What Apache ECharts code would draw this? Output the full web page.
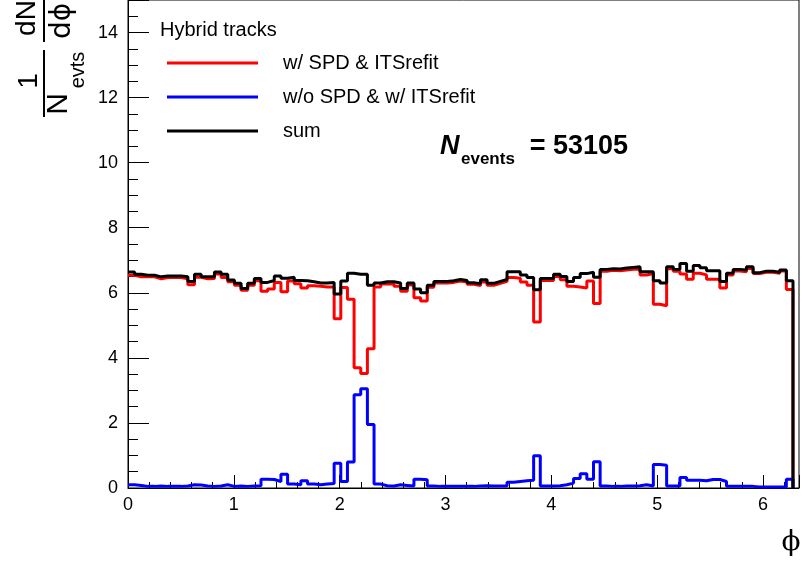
<!DOCTYPE html>
<html>
<head>
<meta charset="utf-8">
<script src="https://cdn.jsdelivr.net/npm/echarts@6.0.0/dist/echarts.min.js"></script>
<style>
  html, body { margin: 0; padding: 0; background: #fff; }
  #chart { width: 802px; height: 563px; }
</style>
</head>
<body>
<div id="chart"></div>
<script>
// histogram: 100 bins in phi over [0, 2pi]
var nBins = 100;
var phiMax = 2 * Math.PI;

// w/ SPD & ITSrefit
var wSpd = [
  6.54, 6.49, 6.49, 6.49, 6.43, 6.47, 6.47, 6.47, 6.43, 6.25,
  6.48, 6.43, 6.44, 6.58, 6.47, 6.34, 6.23, 6.08, 6.23, 6.37,
  6.05, 6.12, 6.32, 6.03, 6.36, 6.28, 6.15, 6.22, 6.20, 6.18,
  6.18, 5.20, 6.16, 5.80, 3.70, 3.52, 4.28, 6.18, 6.27, 6.28,
  6.20, 6.05, 6.24, 5.85, 5.75, 6.17, 6.30, 6.30, 6.32, 6.36,
  6.33, 6.26, 6.22, 6.33, 6.23, 6.29, 6.35, 6.47, 6.45, 6.33,
  6.23, 5.10, 6.38, 6.38, 6.50, 6.40, 6.20, 6.18, 6.15, 6.36,
  5.67, 6.66, 6.69, 6.68, 6.70, 6.72, 6.73, 6.55, 6.59, 5.65,
  5.60, 6.74, 6.66, 6.58, 6.42, 6.60, 6.55, 6.42, 6.42, 6.15,
  6.55, 6.67, 6.65, 6.75, 6.59, 6.63, 6.63, 6.60, 6.67, 6.10
];

// w/o SPD & w/ ITSrefit
var woSpd = [
  0.10, 0.08, 0.05, 0.05, 0.06, 0.05, 0.05, 0.05, 0.06, 0.10,
  0.09, 0.06, 0.05, 0.06, 0.10, 0.05, 0.06, 0.05, 0.06, 0.07,
  0.27, 0.26, 0.20, 0.42, 0.12, 0.10, 0.22, 0.12, 0.10, 0.12,
  0.14, 0.76, 0.20, 0.80, 2.87, 3.05, 1.95, 0.12, 0.07, 0.06,
  0.10, 0.08, 0.06, 0.27, 0.25, 0.06, 0.05, 0.05, 0.05, 0.05,
  0.05, 0.05, 0.06, 0.07, 0.06, 0.06, 0.06, 0.18, 0.20, 0.22,
  0.24, 0.99, 0.06, 0.06, 0.07, 0.10, 0.15, 0.29, 0.44, 0.27,
  0.81, 0.06, 0.05, 0.05, 0.06, 0.06, 0.07, 0.10, 0.06, 0.72,
  0.70, 0.06, 0.06, 0.32, 0.24, 0.24, 0.22, 0.26, 0.26, 0.20,
  0.05, 0.05, 0.05, 0.05, 0.03, 0.03, 0.03, 0.03, 0.03, 0.27
];

// sum
var sumTracks = [
  6.64, 6.57, 6.54, 6.54, 6.49, 6.52, 6.52, 6.52, 6.49, 6.35,
  6.57, 6.49, 6.49, 6.64, 6.57, 6.39, 6.29, 6.13, 6.29, 6.44,
  6.32, 6.38, 6.52, 6.45, 6.48, 6.38, 6.37, 6.34, 6.30, 6.30,
  6.32, 5.96, 6.36, 6.60, 6.57, 6.57, 6.23, 6.30, 6.34, 6.34,
  6.30, 6.13, 6.30, 6.12, 6.00, 6.23, 6.35, 6.35, 6.37, 6.41,
  6.38, 6.31, 6.28, 6.40, 6.29, 6.35, 6.41, 6.65, 6.65, 6.55,
  6.47, 6.09, 6.44, 6.44, 6.57, 6.50, 6.35, 6.47, 6.59, 6.63,
  6.48, 6.72, 6.74, 6.73, 6.76, 6.78, 6.80, 6.65, 6.65, 6.37,
  6.30, 6.80, 6.72, 6.90, 6.66, 6.84, 6.77, 6.68, 6.68, 6.35,
  6.60, 6.72, 6.70, 6.80, 6.62, 6.66, 6.66, 6.63, 6.70, 6.37
];

var xTicks = [0, 1, 2, 3, 4, 5, 6];
var yTicks = [0, 2, 4, 6, 8, 10, 12, 14];

// turn bin contents into a ROOT-style HIST outline (drop to 0 at the right edge)
function histLine(vals) {
  var w = phiMax / nBins;
  var pts = [];
  for (var i = 0; i < vals.length; i++) {
    pts.push([i * w, vals[i]]);
    pts.push([(i + 1) * w, vals[i]]);
  }
  pts.push([vals.length * w, 0]);
  return pts;
}

var font = 'Liberation Sans, Arial, sans-serif';

var chart = echarts.init(document.getElementById('chart'));

var option = {
  animation: false,
  backgroundColor: '#fff',
  title: {
    text: 'Hybrid tracks',
    left: 160,
    top: 20,
    padding: 0,
    textStyle: { fontFamily: font, fontSize: 20, fontWeight: 'normal', color: '#000' }
  },
  legend: {
    orient: 'vertical',
    left: 167,
    top: 46,
    padding: 0,
    itemGap: 0,
    itemWidth: 91,
    itemHeight: 3,
    icon: 'rect',
    data: ['w/ SPD & ITSrefit', 'w/o SPD & w/ ITSrefit', 'sum'],
    textStyle: { fontFamily: font, fontSize: 20, color: '#000', lineHeight: 34, padding: [0, 0, 0, 20] }
  },
  grid: {
    left: 128, right: 2, top: 0, bottom: 75,
    show: true, borderColor: '#000', borderWidth: 1
  },
  xAxis: {
    type: 'value',
    min: 0,
    max: 6.34,
    interval: 1,
    axisLine: { lineStyle: { color: '#000', width: 1 } },
    axisTick: { inside: true, length: 13, lineStyle: { color: '#000' } },
    minorTick: { show: true, splitNumber: 5, length: 6, lineStyle: { color: '#000' } },
    splitLine: { show: false },
    axisLabel: {
      fontFamily: font, fontSize: 18, color: '#000', margin: 8,
      formatter: function (v) { return xTicks.indexOf(v) >= 0 ? String(v) : ''; }
    }
  },
  yAxis: {
    type: 'value',
    min: 0,
    max: 15,
    interval: 2,
    axisLine: { show: true, lineStyle: { color: '#000', width: 1 } },
    axisTick: { show: true, inside: true, length: 21, lineStyle: { color: '#000' } },
    minorTick: { show: true, splitNumber: 4, length: 10, lineStyle: { color: '#000' } },
    splitLine: { show: false },
    axisLabel: {
      fontFamily: font, fontSize: 18, color: '#000', margin: 10,
      formatter: function (v) { return yTicks.indexOf(v) >= 0 ? String(v) : ''; }
    }
  },
  series: [
    {
      name: 'w/ SPD & ITSrefit', type: 'line', data: histLine(wSpd),
      showSymbol: false, color: '#ff0000', lineStyle: { width: 3 }, z: 2
    },
    {
      name: 'w/o SPD & w/ ITSrefit', type: 'line', data: histLine(woSpd),
      showSymbol: false, color: '#0000ff', lineStyle: { width: 3 }, z: 3
    },
    {
      name: 'sum', type: 'line', data: histLine(sumTracks),
      showSymbol: false, color: '#000000', lineStyle: { width: 3 }, z: 4
    }
  ],
  graphic: [
    // y axis title: 1/N_evts dN/dphi, rotated
    { type: 'text', x: 27, y: 18, rotation: Math.PI / 2,
      style: { text: 'dN', font: '28px ' + font, fill: '#000', align: 'center', verticalAlign: 'middle' } },
    { type: 'line', shape: { x1: 44, y1: -2, x2: 44, y2: 42 }, style: { stroke: '#000', lineWidth: 2 } },
    { type: 'text', x: 63, y: 21, rotation: Math.PI / 2,
      style: { text: 'd\u03d5', font: '28px DejaVu Sans, ' + font, fill: '#000', align: 'center', verticalAlign: 'middle' } },
    { type: 'text', x: 29, y: 81, rotation: Math.PI / 2,
      style: { text: '1', font: '28px ' + font, fill: '#000', align: 'center', verticalAlign: 'middle' } },
    { type: 'line', shape: { x1: 44, y1: 50, x2: 44, y2: 117 }, style: { stroke: '#000', lineWidth: 2 } },
    { type: 'text', x: 59, y: 104, rotation: Math.PI / 2,
      style: { text: 'N', font: '30px ' + font, fill: '#000', align: 'center', verticalAlign: 'middle' } },
    { type: 'text', x: 78, y: 70, rotation: Math.PI / 2,
      style: { text: 'evts', font: '20px ' + font, fill: '#000', align: 'center', verticalAlign: 'middle' } },
    // x axis title
    { type: 'text', x: 791, y: 543,
      style: { text: '\u03d5', font: '28px DejaVu Serif', fill: '#000', align: 'center', verticalAlign: 'middle' } },
    // N_events label
    { type: 'text', x: 440, y: 160,
      style: { text: 'N', font: 'italic bold 27px ' + font, fill: '#000', align: 'left', verticalAlign: 'bottom' } },
    { type: 'text', x: 461, y: 168,
      style: { text: 'events', font: 'bold 17px ' + font, fill: '#000', align: 'left', verticalAlign: 'bottom' } },
    { type: 'text', x: 628, y: 160,
      style: { text: '= 53105', font: 'bold 27px ' + font, fill: '#000', align: 'right', verticalAlign: 'bottom' } }
  ]
};

chart.setOption(option);
</script>
</body>
</html>
